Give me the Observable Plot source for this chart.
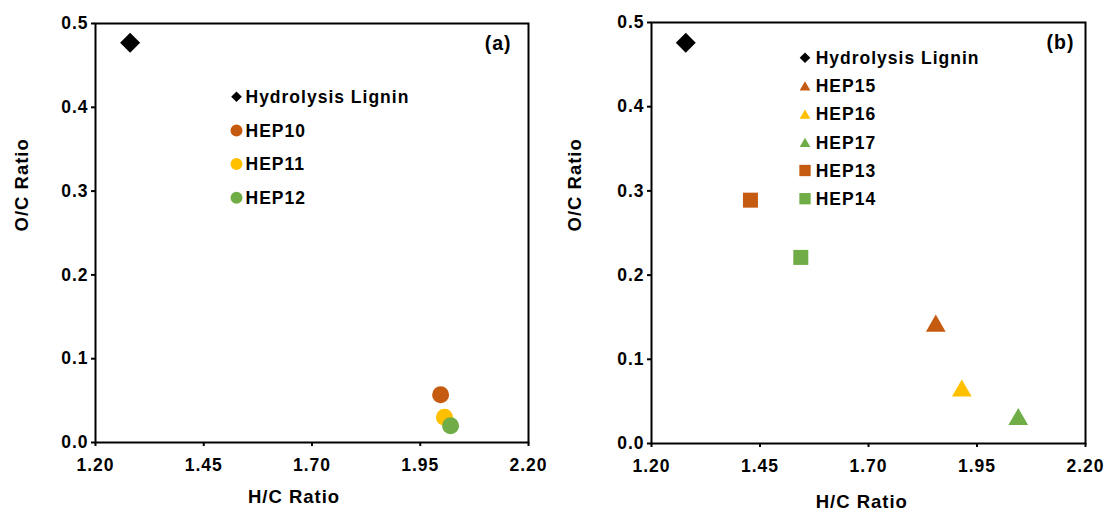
<!DOCTYPE html>
<html>
<head>
<meta charset="utf-8">
<script src="https://cdn.jsdelivr.net/npm/d3@7"></script>
<script src="https://cdn.jsdelivr.net/npm/@observablehq/plot@0.6"></script>
<style>
  body { margin: 0; background: #fff; }
  #chart { position: relative; width: 1106px; height: 514px; background: #fff; }
  #chart svg { position: absolute; top: 0; }
</style>
</head>
<body>
<div id="chart"></div>
<script>
// ---- tick labels / axis titles ----
const xTicks = [1.20, 1.45, 1.70, 1.95, 2.20];
const yTicks = [0.0, 0.1, 0.2, 0.3, 0.4, 0.5];
const xTitle = "H/C Ratio";
const yTitle = "O/C Ratio";

// ---- panel (a) ----
const seriesA = ["Hydrolysis Lignin", "HEP10", "HEP11", "HEP12"];
const hcA = [1.280, 1.997, 2.006, 2.020];
const ocA = [0.477, 0.057, 0.030, 0.020];
const shapeA = ["diamond2", "circle", "circle", "circle"];
const colorA = ["#000000", "#C55A11", "#FFC000", "#70AD47"];

// ---- panel (b) ----
const seriesB = ["Hydrolysis Lignin", "HEP15", "HEP16", "HEP17", "HEP13", "HEP14"];
const hcB = [1.279, 1.855, 1.915, 2.045, 1.428, 1.544];
const ocB = [0.476, 0.143, 0.066, 0.032, 0.289, 0.221];
const shapeB = ["diamond2", "triangle", "triangle", "triangle", "square", "square"];
const colorB = ["#000000", "#C55A11", "#FFC000", "#70AD47", "#C55A11", "#70AD47"];

const FONT = "'Liberation Sans', Arial, sans-serif";
const markR = {diamond2: 9, circle: 8.5, square: 8.46, triangle: 7.33};
const markDy = {diamond2: 0, circle: 0, square: 0, triangle: 2.85};
const legSize = {diamond2: 72, circle: 113, square: 128, triangle: 50};
const legDy = {diamond2: 0, circle: 0, square: 0, triangle: 1.55};
const d3Sym = {diamond2: d3.symbolDiamond2, circle: d3.symbolCircle, square: d3.symbolSquare, triangle: d3.symbolTriangle};

function panel(cfg) {
  const rows = cfg.series.map((s, i) => ({series: s, hc: cfg.hc[i], oc: cfg.oc[i], shape: cfg.shape[i], color: cfg.color[i]}));
  const shapes = [...new Set(cfg.shape)];
  const dotMarks = shapes.map(sh => Plot.dot(rows.filter(d => d.shape === sh), {
    x: "hc", y: "oc", fill: "color", symbol: sh, r: markR[sh], dy: markDy[sh], stroke: "none"
  }));
  const svg = Plot.plot({
    width: 553, height: 514,
    marginLeft: cfg.m[0], marginRight: cfg.m[1], marginTop: cfg.m[2], marginBottom: cfg.m[3],
    x: {domain: [1.2, 2.2]},
    y: {domain: [0, 0.5]},
    color: {type: "identity"},
    style: {fontFamily: FONT, fontSize: "17.5px", fontWeight: "bold", letterSpacing: "1px", color: "#000", background: "#fff", overflow: "visible"},
    marks: [
      Plot.frame({stroke: "black", strokeWidth: 2}),
      Plot.axisX({ticks: xTicks, tickFormat: d3.format(".2f"), tickSize: 4, tickPadding: 12, strokeWidth: 2, label: null}),
      Plot.axisY({ticks: yTicks, tickFormat: d3.format(".1f"), tickSize: 4, tickPadding: 3, strokeWidth: 2, label: null}),
      Plot.text([xTitle], {frameAnchor: "bottom", lineAnchor: "bottom", dx: cfg.xt[0], dy: cfg.xt[1], fontSize: 18.5}),
      Plot.text([yTitle], {frameAnchor: "left", lineAnchor: "top", rotate: -90, dx: cfg.yt[0], dy: cfg.yt[1], fontSize: 18.5}),
      Plot.text([cfg.tag], {frameAnchor: "top-right", textAnchor: "end", lineAnchor: "top", dx: cfg.tagPos[0], dy: cfg.tagPos[1], fontSize: 19.5}),
      ...dotMarks
    ]
  });
  svg.style.left = cfg.left + "px";
  // legend
  const g = d3.select(svg).append("g").attr("class", "legend").attr("text-anchor", "start");
  rows.forEach((d, i) => {
    const cy = cfg.leg.y0 + i * cfg.leg.step;
    g.append("path")
      .attr("d", d3.symbol(d3Sym[d.shape], legSize[d.shape])())
      .attr("transform", `translate(${cfg.leg.sx},${cy + legDy[d.shape]})`)
      .attr("fill", d.color);
    g.append("text")
      .attr("x", cfg.leg.tx).attr("y", cy).attr("dy", "0.36em")
      .attr("text-anchor", "start")
      .attr("fill", "#000")
      .style("font-family", FONT).style("font-size", "17.5px").style("font-weight", "bold").style("letter-spacing", "1px")
      .text(d.series);
  });
  return svg;
}

const chart = document.getElementById("chart");
chart.append(panel({
  series: seriesA, hc: hcA, oc: ocA, shape: shapeA, color: colorA,
  m: [95, 25, 23, 72], left: 0,
  xt: [-18, 60.7], yt: [-80.7, -1.5], tag: "(a)", tagPos: [-17, 12.5],
  leg: {sx: 236.5, tx: 245.5, y0: 96.7, step: 33.7}
}));
chart.append(panel({
  series: seriesB, hc: hcB, oc: ocB, shape: shapeB, color: colorB,
  m: [98, 21, 22, 71], left: 553,
  xt: [-6.7, 64.3], yt: [-83.3, -1.5], tag: "(b)", tagPos: [-11, 12.5],
  leg: {sx: 252, tx: 262.7, y0: 57.7, step: 28.2}
}));
</script>
</body>
</html>
